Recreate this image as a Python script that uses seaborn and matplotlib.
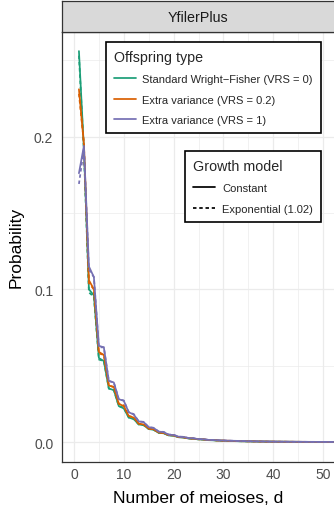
"""
plot.py - Probability of number of meioses, d (YfilerPlus panel).
"""

import numpy as np
import pandas as pd
import matplotlib
matplotlib.use("Agg")
import matplotlib.pyplot as plt
from matplotlib.lines import Line2D
import seaborn as sns

# --- data --------------------------------------------------------------------
meioses = list(range(1, 56))

offspring_types = [
    "Standard Wright\u2212Fisher (VRS = 0)",
    "Extra variance (VRS = 0.2)",
    "Extra variance (VRS = 1)",
]
growth_models = ["Constant", "Exponential (1.02)"]

# constant population size
p_const_vrs0 = [
    0.256, 0.192, 0.100, 0.096, 0.055, 0.053, 0.035, 0.034, 0.0235, 0.022,
    0.016, 0.015, 0.0115, 0.011, 0.0085, 0.008, 0.006, 0.0057, 0.0043, 0.0041,
    0.0031, 0.0029, 0.0023, 0.0021, 0.0017, 0.0016, 0.0012, 0.0011, 0.0009, 0.0008,
    0.0007, 0.0006, 0.0005, 0.00045, 0.0004, 0.00035, 0.0003, 0.00027, 0.00024, 0.0002,
    0.00018, 0.00016, 0.00014, 0.00012, 0.0001, 0.00009, 0.00008, 0.00007, 0.00006, 0.00005,
    0.00004, 0.00004, 0.00003, 0.00003, 0.00002,
]
p_const_vrs02 = [
    0.231, 0.195, 0.106, 0.100, 0.059, 0.057, 0.037, 0.036, 0.025, 0.0235,
    0.017, 0.016, 0.012, 0.0115, 0.0088, 0.0083, 0.0062, 0.0059, 0.0045, 0.0043,
    0.0032, 0.0030, 0.0024, 0.0022, 0.0018, 0.0017, 0.0013, 0.0012, 0.0010, 0.0009,
    0.0008, 0.0007, 0.0006, 0.0005, 0.00045, 0.0004, 0.00035, 0.0003, 0.00026, 0.00023,
    0.0002, 0.00018, 0.00016, 0.00014, 0.00012, 0.0001, 0.00009, 0.00008, 0.00007, 0.00006,
    0.00005, 0.00005, 0.00004, 0.00004, 0.00003,
]
p_const_vrs1 = [
    0.176, 0.194, 0.115, 0.108, 0.063, 0.062, 0.040, 0.039, 0.028, 0.027,
    0.0195, 0.018, 0.0135, 0.013, 0.0097, 0.0092, 0.0068, 0.0065, 0.0048, 0.0046,
    0.0035, 0.0033, 0.0026, 0.0024, 0.0019, 0.0018, 0.0014, 0.0013, 0.0011, 0.0010,
    0.0009, 0.0008, 0.0007, 0.0006, 0.0005, 0.00045, 0.0004, 0.00035, 0.0003, 0.00026,
    0.00023, 0.0002, 0.00018, 0.00016, 0.00014, 0.00012, 0.0001, 0.00009, 0.00008, 0.00007,
    0.00006, 0.00005, 0.00005, 0.00004, 0.00004,
]

# exponential growth (1.02)
p_exp_vrs0 = [
    0.253, 0.190, 0.098, 0.095, 0.054, 0.053, 0.035, 0.034, 0.0235, 0.0225,
    0.016, 0.0152, 0.0115, 0.011, 0.0085, 0.008, 0.006, 0.0058, 0.0044, 0.0042,
    0.0032, 0.0030, 0.0023, 0.0022, 0.0017, 0.0016, 0.0013, 0.0012, 0.0009, 0.0008,
    0.0007, 0.0006, 0.0005, 0.00045, 0.0004, 0.00035, 0.0003, 0.00027, 0.00024, 0.0002,
    0.00018, 0.00016, 0.00014, 0.00012, 0.0001, 0.00009, 0.00008, 0.00007, 0.00006, 0.00005,
    0.00004, 0.00004, 0.00003, 0.00003, 0.00002,
]
p_exp_vrs02 = [
    0.228, 0.196, 0.104, 0.100, 0.058, 0.057, 0.037, 0.036, 0.025, 0.024,
    0.017, 0.0162, 0.012, 0.0117, 0.0088, 0.0084, 0.0063, 0.006, 0.0046, 0.0044,
    0.0033, 0.0031, 0.0024, 0.0023, 0.0018, 0.0017, 0.0013, 0.0012, 0.0010, 0.0009,
    0.0008, 0.0007, 0.0006, 0.0005, 0.00045, 0.0004, 0.00035, 0.0003, 0.00026, 0.00023,
    0.0002, 0.00018, 0.00016, 0.00014, 0.00012, 0.0001, 0.00009, 0.00008, 0.00007, 0.00006,
    0.00005, 0.00005, 0.00004, 0.00004, 0.00003,
]
p_exp_vrs1 = [
    0.169, 0.192, 0.113, 0.108, 0.062, 0.062, 0.040, 0.039, 0.028, 0.0272,
    0.0195, 0.0183, 0.0135, 0.0132, 0.0097, 0.0093, 0.0069, 0.0066, 0.0049, 0.0047,
    0.0035, 0.0034, 0.0026, 0.0025, 0.0019, 0.0018, 0.0014, 0.0013, 0.0011, 0.0010,
    0.0009, 0.0008, 0.0007, 0.0006, 0.0005, 0.00045, 0.0004, 0.00035, 0.0003, 0.00026,
    0.00023, 0.0002, 0.00018, 0.00016, 0.00014, 0.00012, 0.0001, 0.00009, 0.00008, 0.00007,
    0.00006, 0.00005, 0.00005, 0.00004, 0.00004,
]

series = {
    (offspring_types[0], growth_models[0]): p_const_vrs0,
    (offspring_types[1], growth_models[0]): p_const_vrs02,
    (offspring_types[2], growth_models[0]): p_const_vrs1,
    (offspring_types[0], growth_models[1]): p_exp_vrs0,
    (offspring_types[1], growth_models[1]): p_exp_vrs02,
    (offspring_types[2], growth_models[1]): p_exp_vrs1,
}

rows = []
for (otype, growth), probs in series.items():
    for d, p in zip(meioses, probs):
        rows.append({"d": d, "p": p, "Offspring type": otype, "Growth model": growth})
df = pd.DataFrame(rows)

# --- style ---------------------------------------------------------------------
sns.set_style("white")
plt.rcParams["font.family"] = ["Liberation Sans", "DejaVu Sans"]

palette = dict(zip(offspring_types, ["#1B9E77", "#D95F02", "#7570B3"]))
dash_map = {"Constant": "", "Exponential (1.02)": (2, 1.6)}
LW = 1.25

W, H = 334, 506
fig = plt.figure(figsize=(W / 100, H / 100), dpi=100)

# panel (right edge falls just outside the image, as in the reference)
ax_l, ax_r, ax_t, ax_b = 61.5, 335.5, 32.7, 462.7
ax = fig.add_axes([ax_l / W, 1 - ax_b / H, (ax_r - ax_l) / W, (ax_b - ax_t) / H])

sns.lineplot(data=df, x="d", y="p", hue="Offspring type", style="Growth model",
             hue_order=offspring_types, style_order=growth_models,
             palette=palette, dashes=dash_map, linewidth=LW,
             legend=False, ax=ax)

ax.set_xlim(-2.5, 52.5)
ax.set_ylim(-0.0129, 0.2687)
ax.set_xticks([0, 10, 20, 30, 40, 50])
ax.set_xticks([5, 15, 25, 35, 45], minor=True)
ax.set_yticks([0.0, 0.1, 0.2])
ax.set_yticklabels(["0.0", "0.1", "0.2"])
ax.set_yticks([0.05, 0.15, 0.25], minor=True)
ax.grid(True, which="major", color="#EBEBEB", linewidth=0.9)
ax.grid(True, which="minor", color="#EBEBEB", linewidth=0.5)
ax.set_axisbelow(True)
for sp in ax.spines.values():
    sp.set_color("#333333")
    sp.set_linewidth(0.9)
ax.tick_params(which="major", length=2.9, width=0.8, color="#333333",
               labelsize=10, labelcolor="#4D4D4D")
ax.tick_params(axis="x", which="major", pad=1)
ax.tick_params(axis="y", which="major", pad=3)
ax.tick_params(which="minor", length=0)

ax.set_xlabel("Number of meioses, d", fontsize=12.5, color="black")
ax.set_ylabel("Probability", fontsize=12.5, color="black")
ax.xaxis.set_label_coords((198 - ax_l) / (ax_r - ax_l), -0.065)
ax.yaxis.set_label_coords(-0.137, 0.5)

# facet strip
strip = fig.add_axes([ax_l / W, 1 - ax_t / H, (ax_r - ax_l) / W, (ax_t - 1.7) / H])
strip.set_facecolor("#D9D9D9")
strip.set_xticks([])
strip.set_yticks([])
for sp in strip.spines.values():
    sp.set_color("#333333")
    sp.set_linewidth(0.9)
strip.text((198 - ax_l) / (ax_r - ax_l), 0.47, "YfilerPlus", ha="center", va="center",
           fontsize=10.3, color="#1A1A1A")

# legends
leg_kw = dict(fontsize=8, title_fontsize=10.3, frameon=True, fancybox=False,
              edgecolor="black", framealpha=1, borderpad=0.72, handlelength=2.0,
              handletextpad=0.6, labelspacing=0.95, alignment="left",
              loc="upper right", bbox_transform=fig.transFigure, borderaxespad=0)

off_handles = [Line2D([], [], color=palette[o], lw=LW) for o in offspring_types]
leg1 = ax.legend(off_handles, offspring_types, title="Offspring type",
                 bbox_to_anchor=(321 / W, 1 - 42.7 / H), **leg_kw)
leg1.get_frame().set_linewidth(1.2)
ax.add_artist(leg1)

growth_handles = [Line2D([], [], color="black", lw=LW),
                  Line2D([], [], color="black", lw=LW, dashes=(2, 1.6))]
leg2 = ax.legend(growth_handles, growth_models, title="Growth model",
                 bbox_to_anchor=(321 / W, 1 - 151.7 / H), **leg_kw)
leg2.get_frame().set_linewidth(1.2)

fig.savefig("out.png", dpi=100)
plt.close(fig)
